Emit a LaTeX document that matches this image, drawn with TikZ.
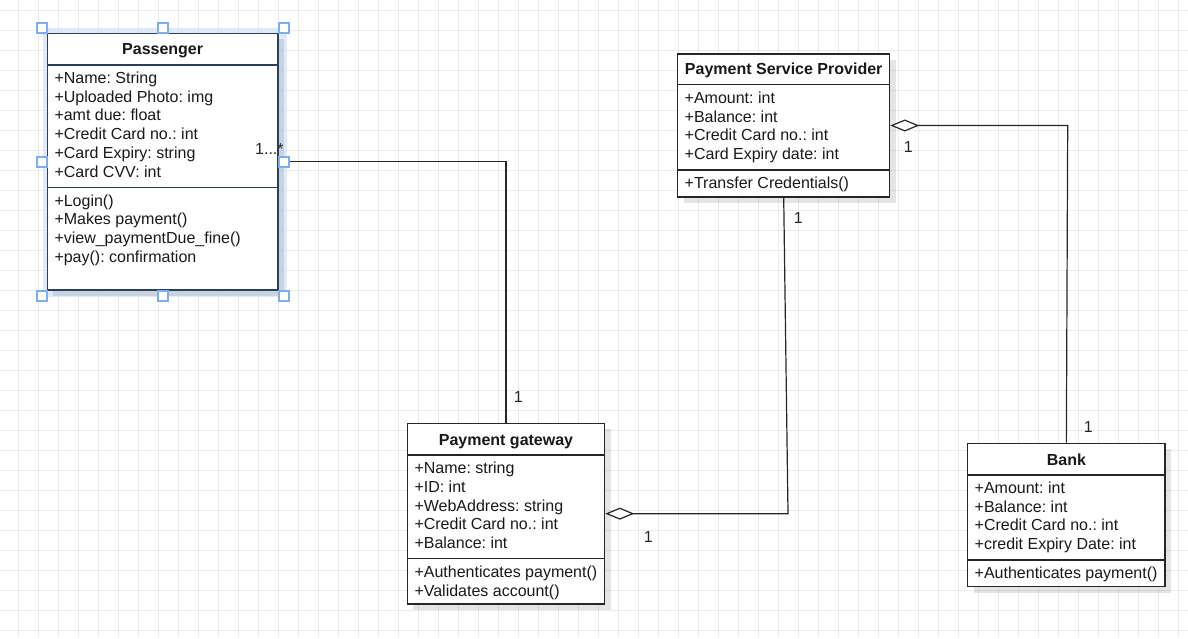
\documentclass[tikz,border=0pt]{standalone}
\usepackage{fontspec}
\setmainfont{Liberation Sans}
\usetikzlibrary{arrows.meta,shadows}
\definecolor{gridc}{HTML}{EBEBEB}
\definecolor{halo}{HTML}{D6E4F7}
\definecolor{handlec}{HTML}{7DAEEF}
\definecolor{selb}{HTML}{2B3F5C}
\frenchspacing
\newcommand{\mylines}[5]{%
  \foreach \lbl [count=\i] in {#5} {
    \node[txt,anchor=base west] (#1\i) at (#2, {#3+#4*(\i-1)}) {\lbl};
  }}
\begin{document}
\begin{tikzpicture}[x=1pt,y=-1pt,
  txt/.style={font=\fontsize{16}{19}\selectfont\frenchspacing, inner sep=0pt, text=black!90},
  ttl/.style={font=\fontsize{16}{19}\selectfont\bfseries, inner sep=0pt, text=black!90, anchor=base},
  classbox/.style={draw=black!85, line width=1.2pt, fill=white, inner sep=0pt,
    drop shadow={shadow xshift=6pt, shadow yshift=-6pt, fill=black, opacity=0.10}},
  sepline/.style={draw=black!85, line width=1.2pt},
  assoc/.style={draw=black!85, line width=1.2pt},
  agg/.style={draw=black!85, line width=1.2pt, -{Diamond[fill=white, length=29pt, width=12pt]}},
  mult/.style={font=\fontsize{16}{19}\selectfont, inner sep=0pt, text=black!85},
  handlebox/.style={draw=handlec, line width=1.5pt, fill=white}
]
\useasboundingbox (0,0) rectangle (1188,638);
\fill[white] (0,0) rectangle (1188,638);
% grid
\foreach \gx in {18,38,...,1178} \draw[gridc, line width=0.8pt] (\gx,0) -- (\gx,638);
\foreach \gy in {10,30,...,630} \draw[gridc, line width=0.8pt] (0,\gy) -- (1188,\gy);

% selection halo for Passenger
\fill[halo, opacity=0.75] (43,28) rectangle (287,297);

% class boxes
\node[classbox, draw=selb, line width=1.6pt, minimum width=230.7pt, minimum height=256.7pt] (pass) at (162.65,161.65) {};
\node[classbox, minimum width=212pt, minimum height=143pt] (psp) at (783.7,125.5) {};
\node[classbox, minimum width=197.4pt, minimum height=180.7pt] (pg) at (506,513.65) {};
\node[classbox, minimum width=197.3pt, minimum height=143.4pt] (bank) at (1066.35,515) {};

% separators
\draw[sepline, draw=selb, line width=1.4pt] (47.3,65) -- (278,65);
\draw[sepline, draw=selb, line width=1.4pt] (47.3,187.7) -- (278,187.7);
\draw[sepline] (677.7,84.3) -- (889.7,84.3);
\draw[sepline] (677.7,170) -- (889.7,170);
\draw[sepline] (407.3,455) -- (604.7,455);
\draw[sepline] (407.3,558.3) -- (604.7,558.3);
\draw[sepline] (967.7,475) -- (1165,475);
\draw[sepline] (967.7,560) -- (1165,560);

% titles
\node[ttl] (passT) at (162.65,54) {Passenger};
\node[ttl] (pspT) at (783.7,74) {Payment Service Provider};
\node[ttl] (pgT) at (506,445) {Payment gateway};
\node[ttl] (bankT) at (1066.35,465) {Bank};

% members
\mylines{passA}{54.3}{83.2}{18.8}{+Name: String,+Uploaded Photo: img,+amt due: float,+Credit Card no.: int,+Card Expiry: string,+Card CVV: int}
\mylines{passM}{54.3}{206}{18.8}{+Login(),+Makes payment(),+view\_paymentDue\_fine(),+pay(): confirmation}
\mylines{pspA}{684.5}{103.2}{18.8}{+Amount: int,+Balance: int,+Credit Card no.: int,+Card Expiry date: int}
\mylines{pspM}{684.5}{188.5}{18.8}{+Transfer Credentials()}
\mylines{pgA}{414.3}{473.5}{18.8}{+Name: string,+ID: int,+WebAddress: string,+Credit Card no.: int,+Balance: int}
\mylines{pgM}{414.3}{577.5}{18.8}{+Authenticates payment(),+Validates account()}
\mylines{bankA}{974.5}{493.5}{18.7}{+Amount: int,+Balance: int,+Credit Card no.: int,+credit Expiry Date: int}
\mylines{bankM}{974.5}{578.5}{18.8}{+Authenticates payment()}

% connectors
\coordinate (c2) at (788,513.65);
\coordinate (c3) at (1067.7,125.5);
\draw[assoc] (pass.east) -| (pg.north);
\draw[agg] (psp.south) -- (c2) -- (pg.east);
\draw[agg] (bank.north) -- (c3) -- (psp.east);

% multiplicities
\node[mult, anchor=base west] (m1) at (255,154) {1...*};
\node[mult] (m2) at (518.3,396.7) {1};
\node[mult] (m3) at (648.3,536.7) {1};
\node[mult] (m4) at (798.3,218.3) {1};
\node[mult] (m5) at (908.3,147.3) {1};
\node[mult] (m6) at (1088.3,427.3) {1};

% selection handles
\foreach \hx/\hy in {42/28,163/28,284/28,42/162,284/162,42/296,163/296,284/296}
  \draw[handlebox] (\hx-5,\hy-5) rectangle (\hx+5,\hy+5);
\end{tikzpicture}
\end{document}
